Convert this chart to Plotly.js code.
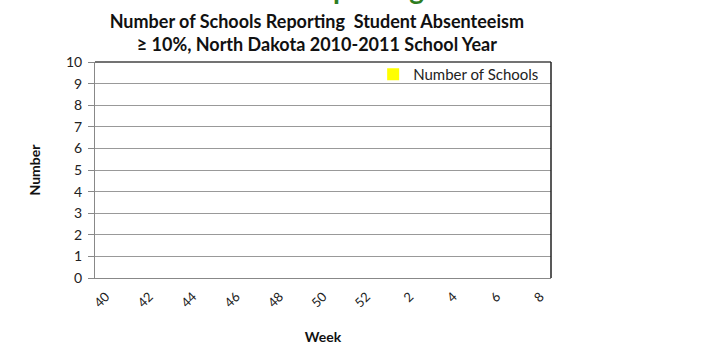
<!DOCTYPE html>
<html>
<head>
<meta charset="utf-8">
<script src="https://cdn.plot.ly/plotly-3.0.1.min.js"></script>
<style>html,body{margin:0;padding:0;background:#fff;}#chart{width:704px;height:345px;}</style>
</head>
<body>
<div id="chart"></div>
<script>
const weeks = ['40','41','42','43','44','45','46','47','48','49','50','51','52','1','2','3','4','5','6','7','8'];
const schools = [0,0,0,0,0,0,0,0,0,0,0,0,0,0,0,0,0,0,0,0,0];
const weekTicks = ['40','42','44','46','48','50','52','2','4','6','8'];
const seriesName = 'Number of Schools';

const font = 'Lato, "Open Sans", sans-serif';

const data = [{
  type: 'bar',
  x: weeks,
  y: schools,
  name: seriesName,
  showlegend: true,
  marker: {color: '#ffff00', line: {color: '#333', width: 0}}
}];

const layout = {
  width: 704, height: 345,
  margin: {l: 95, r: 153, t: 62, b: 67},
  paper_bgcolor: '#fff', plot_bgcolor: '#fff',
  font: {family: font, color: '#222'},
  title: {
    text: '<b>Number of Schools Reporting  Student Absenteeism<br>≥ 10%, North Dakota 2010-2011 School Year</b>',
    font: {size: 18, family: font, color: '#111'},
    x: 0.45, xanchor: 'center', y: 0.92, yanchor: 'middle', yref: 'container'
  },
  xaxis: {
    type: 'category',
    categoryorder: 'array', categoryarray: weeks,
    tickmode: 'array', tickvals: weekTicks, ticktext: weekTicks,
    tickangle: -45,
    tickfont: {size: 13, family: font, color: '#222'},
    ticklabelstandoff: 5,
    showline: true, linecolor: '#888', linewidth: 1,
    showgrid: false, ticks: '',
    title: {text: '<b>Week</b>', font: {size: 14, family: font, color: '#111'}, standoff: 24}
  },
  yaxis: {
    range: [0, 10], dtick: 1, tick0: 0,
    tickfont: {size: 14, family: font, color: '#222'},
    showline: true, linecolor: '#888', linewidth: 1,
    ticks: 'outside', ticklen: 6, tickcolor: '#888',
    ticklabelstandoff: 3,
    showgrid: true, gridcolor: '#999', gridwidth: 1,
    zeroline: false,
    title: {text: '<b>Number</b>', font: {size: 14, family: font, color: '#111'}, standoff: 22}
  },
  legend: {
    x: 0.985, xanchor: 'right', y: 1.018, yanchor: 'top',
    bgcolor: 'rgba(255,255,255,0)', borderwidth: 0,
    font: {size: 15, family: font, color: '#222'},
    itemwidth: 30
  },
  shapes: [
    {type: 'line', xref: 'paper', yref: 'paper', x0: 0, x1: 1, y0: 1, y1: 1, line: {color: '#444', width: 1.5}},
    {type: 'line', xref: 'paper', yref: 'paper', x0: 1, x1: 1, y0: 0, y1: 1, line: {color: '#222', width: 1.5}}
  ],
  annotations: [{
    text: '<b>Number of Schools Reporting Absenteeism ≥ 10%</b>',
    xref: 'paper', yref: 'paper', x: 0.597, y: 1.256, xanchor: 'center', yanchor: 'bottom',
    showarrow: false, font: {size: 28, family: font, color: '#2e7d1f'}
  }]
};

Plotly.newPlot('chart', data, layout, {displayModeBar: false, staticPlot: true});
</script>
</body>
</html>
